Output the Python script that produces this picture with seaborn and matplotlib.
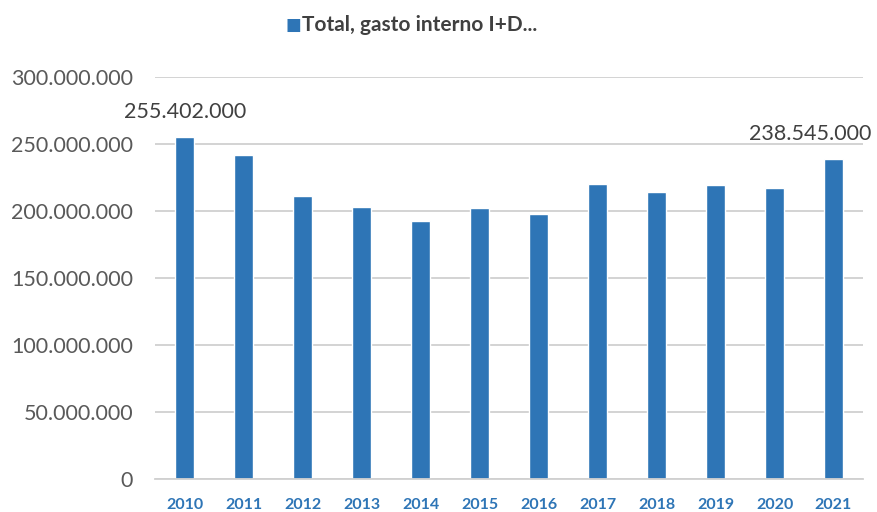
import matplotlib.pyplot as plt
import seaborn as sns
import pandas as pd

# datos
years = ["2010", "2011", "2012", "2013", "2014", "2015",
         "2016", "2017", "2018", "2019", "2020", "2021"]
gasto = [255402000, 242000000, 211200000, 202500000, 192100000, 201800000,
         197800000, 219800000, 214000000, 219000000, 217000000, 238545000]
serie = "Total, gasto interno I+D..."
labelled = {"2010": "255.402.000", "2021": "238.545.000"}
yticks = [0, 50000000, 100000000, 150000000, 200000000, 250000000, 300000000]

df = pd.DataFrame({"year": years, "gasto": gasto, "serie": serie})

sns.set_style("white")
plt.rcParams['font.family'] = ['Lato', 'DejaVu Sans']

fig = plt.figure(figsize=(8.77, 5.12), dpi=100)
ax = fig.add_axes([0.177, 0.065, 0.807, 0.785])

blue = "#2E75B6"
sns.barplot(data=df, x="year", y="gasto", hue="serie", palette=[blue],
            width=0.32, saturation=1, ax=ax, legend=False)

ax.set_ylim(0, 300000000)
ax.set_xlim(-0.5, 11.5)
ax.set_yticks(yticks)
ax.set_yticklabels([f"{v:,}".replace(",", ".") for v in yticks],
                   color="#595959", fontsize=15.5)
ax.set_xticks(range(len(years)))
ax.set_xticklabels(years, color=blue, fontsize=11.5, fontweight="bold")
ax.tick_params(axis="both", length=0)
ax.tick_params(axis="y", pad=16)
ax.tick_params(axis="x", pad=14)
ax.yaxis.grid(True, color="#D0D0D0", linewidth=1.3)
ax.set_axisbelow(True)
for s in ["top", "right", "left"]:
    ax.spines[s].set_visible(False)
ax.spines["bottom"].set_color("#D0D0D0")
ax.spines["bottom"].set_linewidth(1.3)
ax.set_xlabel("")
ax.set_ylabel("")

for i, y in enumerate(years):
    if y in labelled:
        if i == len(years) - 1:
            ax.text(i + 0.65, gasto[i] + 11000000, labelled[y], ha="right",
                    va="bottom", fontsize=15.5, color="#404040", clip_on=False)
        else:
            ax.text(i, gasto[i] + 11000000, labelled[y], ha="center",
                    va="bottom", fontsize=15.5, color="#404040", clip_on=False)

# leyenda
fig.text(0.325, 0.952, "\u25A0", color=blue, fontsize=12, va="center", ha="left")
fig.text(0.344, 0.952, serie, color="#404040", fontsize=15, fontweight="bold",
         va="center", ha="left")

plt.savefig("out.png", dpi=100)
plt.close()
